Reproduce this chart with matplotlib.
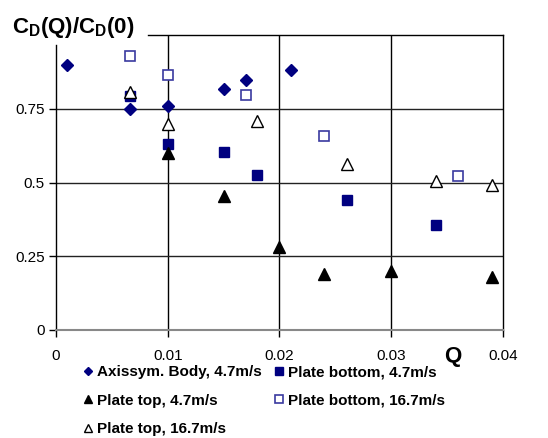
import matplotlib.pyplot as plt

plt.rcParams['font.family'] = ['Liberation Sans', 'DejaVu Sans']

# Axissym. Body, 4.7m/s
q_axis = [0.001, 0.0066, 0.01, 0.015, 0.017, 0.021]
cd_axis = [0.90, 0.75, 0.76, 0.817, 0.847, 0.88]

# Plate bottom, 4.7m/s
q_pb47 = [0.0066, 0.01, 0.015, 0.018, 0.026, 0.034]
cd_pb47 = [0.793, 0.63, 0.603, 0.525, 0.44, 0.356]

# Plate top, 4.7m/s
q_pt47 = [0.01, 0.015, 0.02, 0.024, 0.03, 0.039]
cd_pt47 = [0.60, 0.454, 0.28, 0.19, 0.20, 0.18]

# Plate bottom, 16.7m/s
q_pb167 = [0.0066, 0.01, 0.017, 0.024, 0.036]
cd_pb167 = [0.93, 0.864, 0.797, 0.658, 0.522]

# Plate top, 16.7m/s
q_pt167 = [0.0066, 0.01, 0.018, 0.026, 0.034, 0.039]
cd_pt167 = [0.807, 0.698, 0.708, 0.563, 0.505, 0.49]

xticks = [0, 0.01, 0.02, 0.03, 0.04]
xlabels = ['0', '0.01', '0.02', '0.03', '0.04']
yticks = [0, 0.25, 0.5, 0.75]
ylabels = ['0', '0.25', '0.5', '0.75']

navy = '#000080'
openblue = '#3a3aa0'

fig = plt.figure(figsize=(5.48, 4.38), dpi=100)
ax = fig.add_axes([0.102, 0.2466, 0.816, 0.6734])

h1, = ax.plot(q_axis, cd_axis, 'D', color=navy, ms=6.5, ls='none',
              label='Axissym. Body, 4.7m/s')
h2, = ax.plot(q_pb47, cd_pb47, 's', color=navy, ms=7.5, ls='none',
              label='Plate bottom, 4.7m/s')
h3, = ax.plot(q_pt47, cd_pt47, '^', color='black', ms=8.5, ls='none',
              label='Plate top, 4.7m/s')
h4, = ax.plot(q_pb167, cd_pb167, 's', mfc='white', mec=openblue, mew=1.2,
              ms=7.5, ls='none', label='Plate bottom, 16.7m/s')
h5, = ax.plot(q_pt167, cd_pt167, '^', mfc='white', mec='black', mew=1.0,
              ms=8.5, ls='none', label='Plate top, 16.7m/s')

ax.set_xlim(0, 0.04)
ax.set_ylim(0, 1)
ax.set_xticks(xticks)
ax.set_xticklabels(xlabels)
ax.set_yticks(yticks)
ax.set_yticklabels(ylabels)
ax.tick_params(direction='out', length=5, width=1, labelsize=11)
ax.tick_params(axis='x', pad=9)
ax.tick_params(axis='y', pad=3)

for q in xticks[1:4]:
    ax.axvline(q, color='black', lw=1, zorder=0)
for v in yticks[1:]:
    ax.axhline(v, color='#222222', lw=1, zorder=0)

ax.spines['bottom'].set_color('#888888')
ax.spines['bottom'].set_linewidth(1.5)
ax.spines['left'].set_bounds(0, 0.966)
ax.spines['top'].set_bounds(0.0082, 0.04)
for s in ['left', 'top', 'right']:
    ax.spines[s].set_linewidth(1)

fig.text(0.022, 0.908, r'C$_\mathregular{D}$(Q)/C$_\mathregular{D}$(0)',
         fontsize=16, fontweight='bold', va='bottom')
fig.text(0.827, 0.185, 'Q', fontsize=16, fontweight='bold', va='center', ha='center')

handles = [h1, h3, h5, h2, h4]
leg = fig.legend(handles=handles, ncol=2, loc='upper left',
                 bbox_to_anchor=(0.154, 0.166), frameon=False,
                 prop={'size': 11, 'weight': 'bold'},
                 handlelength=0.5, handletextpad=0.35, columnspacing=0.85,
                 labelspacing=0.95, borderaxespad=0, borderpad=0, markerscale=0.7)

fig.savefig('out.png', dpi=100)
